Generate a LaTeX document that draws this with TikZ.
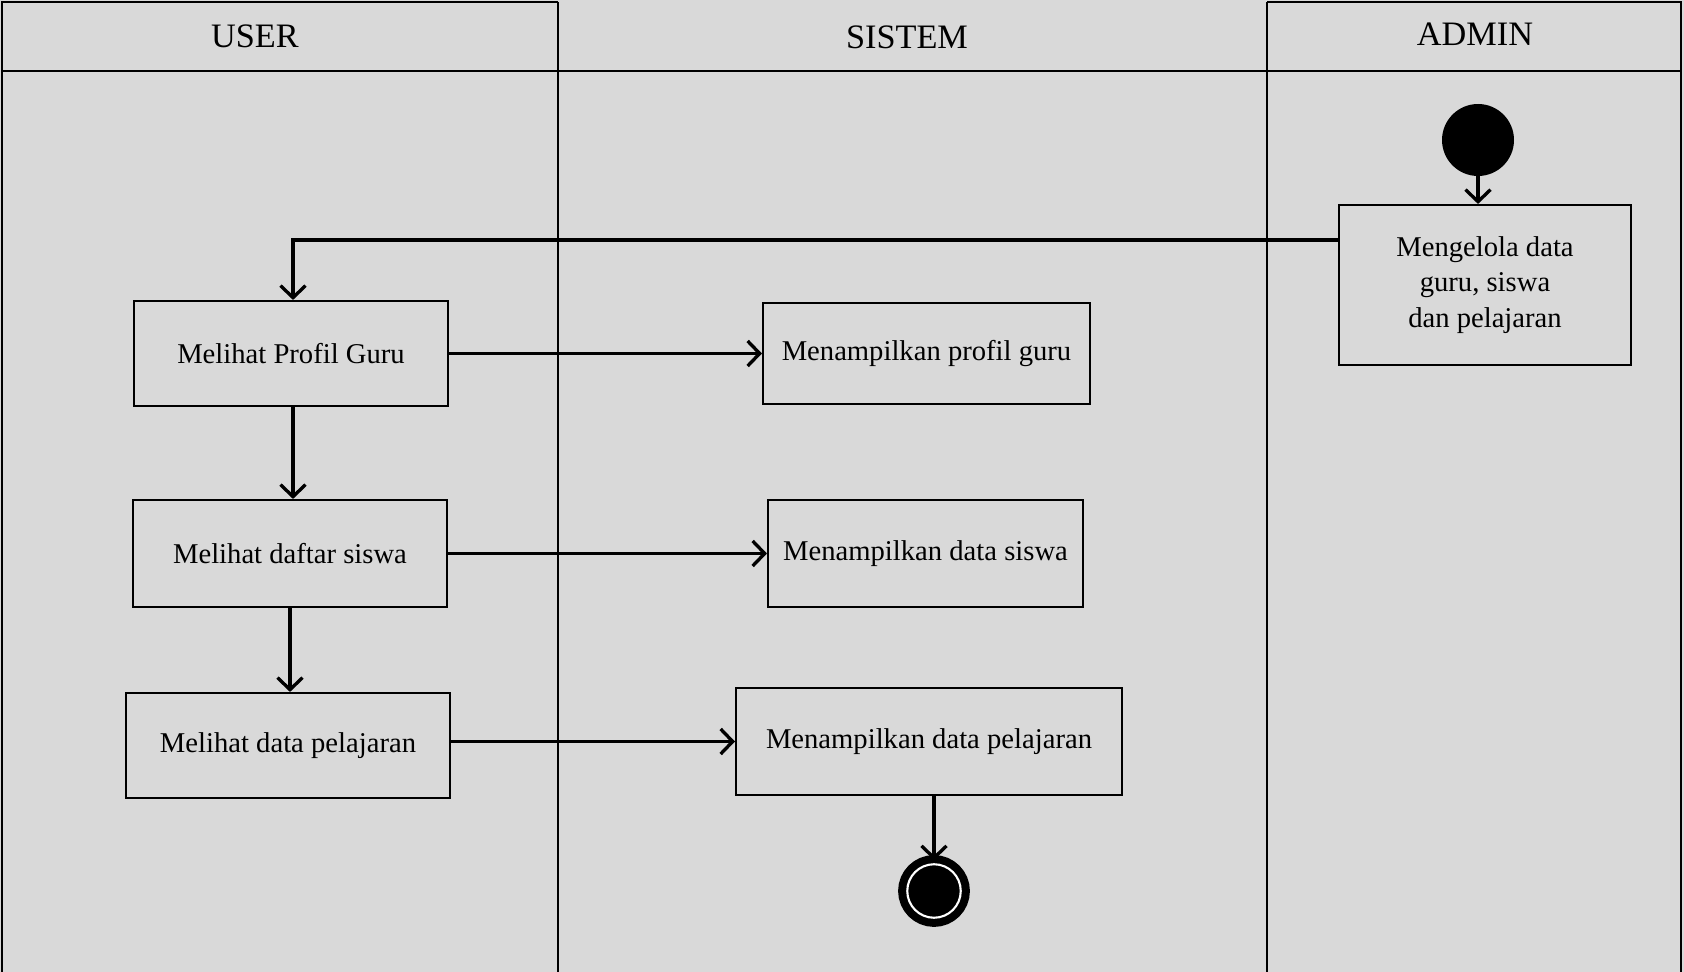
\documentclass[tikz,border=0pt]{standalone}
\usepackage{fontspec}
\setmainfont{Liberation Serif}
\usetikzlibrary{arrows.meta, positioning}
\definecolor{lanegray}{HTML}{D9D9D9}
\tikzstyle{activity} = [rectangle, draw=black, line width=1.2pt, align=center, inner sep=0pt, font=\fontsize{16.3}{20}\selectfont]
\tikzstyle{lane} = [draw=black, line width=0.85pt]
\tikzstyle{lanetitle} = [font=\fontsize{19.5}{24}\selectfont]
\tikzstyle{startstate} = [circle, fill=black, minimum size=1.44cm, inner sep=0pt]
\tikzstyle{endstate} = [circle, draw=black, fill=black, minimum size=1.07cm, inner sep=0pt, line width=4.6pt, double=white, double distance=1.2pt]
\tikzstyle{arrow} = [line width=1.9pt, -{Straight Barb[length=0.24cm, width=0.5cm]}]

\begin{document}
\begin{tikzpicture}[x=0.02cm, y=-0.02cm]

% Background and swimlanes
\fill[lanegray] (0,0) rectangle (1684,972);
\useasboundingbox (0,0) rectangle (1684,972);
\draw[lane] (2,972) -- (2,2) -- (558,2);
\draw[lane] (1267,2) -- (1681,2) -- (1681,972);
\draw[lane] (558,2) -- (558,972);
\draw[lane] (1267,2) -- (1267,972);
\draw[lane, line width=1.3pt] (2,71) -- (1681,71);

\node (user) [lanetitle] at (255,36) {USER};
\node (sistem) [lanetitle] at (907,37) {SISTEM};
\node (admin) [lanetitle] at (1475,34) {ADMIN};

% Admin
\node (mulai) [startstate] at (1478,140) {};
\node (mengelola) [activity, minimum width=5.84cm, minimum height=3.2cm] at (1485,285) {Mengelola data\\guru, siswa\\dan pelajaran};

% User
\node (profilguru) [activity, minimum width=6.28cm, minimum height=2.1cm] at (291,353.5) {Melihat Profil Guru};
\node (daftarsiswa) [activity, minimum width=6.28cm, minimum height=2.14cm] at (290,553.5) {Melihat daftar siswa};
\node (datapelajaran) [activity, minimum width=6.48cm, minimum height=2.1cm] at (288,745.5) {Melihat data pelajaran};

% Sistem
\node (tampilprofil) [activity, minimum width=6.54cm, minimum height=2.02cm] at (926.5,353.5) {Menampilkan profil guru};
\node (tampilsiswa) [activity, minimum width=6.3cm, minimum height=2.14cm] at (925.5,553.5) {Menampilkan data siswa};
\node (tampilpelajaran) [activity, minimum width=7.72cm, minimum height=2.14cm] at (929,741.5) {Menampilkan data pelajaran};
\node (selesai) [endstate] at (934,891) {};

% Transitions
\draw [arrow] (mulai) -- (mulai |- mengelola.north);
\draw [arrow] (mengelola.163) -| ([xshift=0.04cm]profilguru.north);
\draw [arrow] (profilguru.east) -- (tampilprofil.west);
\draw [arrow] ([xshift=0.04cm]profilguru.south) -- ([xshift=0.04cm]profilguru.south |- daftarsiswa.north);
\draw [arrow] (daftarsiswa.east) -- (tampilsiswa.west);
\draw [arrow] (daftarsiswa.south) -- (daftarsiswa.south |- datapelajaran.north);
\draw [arrow] (datapelajaran.east |- tampilpelajaran.west) -- (tampilpelajaran.west);
\draw [arrow] (tampilpelajaran.south -| selesai) -- (selesai);

\end{tikzpicture}
\end{document}
